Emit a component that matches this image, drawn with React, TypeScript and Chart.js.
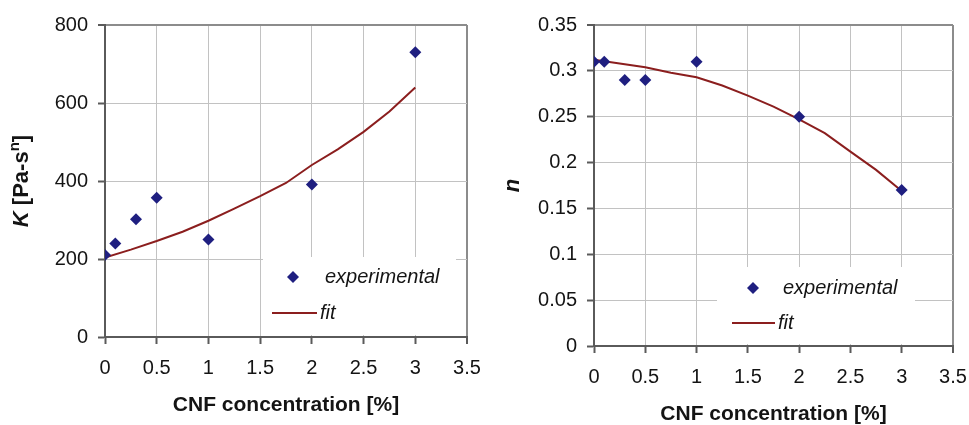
import React, { useEffect, useRef } from "react";
import { Chart, registerables } from "chart.js";

Chart.register(...registerables);

// ---------- data ----------
const expX = [0, 0.1, 0.3, 0.5, 1, 2, 3];
const kExp = [210, 240, 302, 357, 250, 391, 730];
const nExp = [0.31, 0.31, 0.29, 0.29, 0.31, 0.25, 0.17];

const fitX = [0, 0.25, 0.5, 0.75, 1, 1.25, 1.5, 1.75, 2, 2.25, 2.5, 2.75, 3];
const kFit = [204, 224, 246, 270, 298, 329, 361, 395, 441, 481, 526, 578, 640];
const nFit = [0.312, 0.308, 0.304, 0.298, 0.293, 0.284, 0.273, 0.261, 0.247, 0.232, 0.212, 0.192, 0.169];

const xTickValues = [0, 0.5, 1, 1.5, 2, 2.5, 3, 3.5];
const xTickLabels = ["0", "0.5", "1", "1.5", "2", "2.5", "3", "3.5"];
const kTickValues = [0, 200, 400, 600, 800];
const kTickLabels = ["0", "200", "400", "600", "800"];
const nTickValues = [0, 0.05, 0.1, 0.15, 0.2, 0.25, 0.3, 0.35];
const nTickLabels = ["0", "0.05", "0.1", "0.15", "0.2", "0.25", "0.3", "0.35"];

const seriesNames = ["experimental", "fit"];
const xTitle = "CNF concentration [%]";

// ---------- style ----------
const FONT = '"Liberation Sans", Arial, Helvetica, sans-serif';
const POINT_COLOR = "#1f1f80";
const LINE_COLOR = "#8b1e1e";
const GRID = "#c2c2c2";
const FRAME = "#8c8c8c";
const AXIS = "#5a5a5a";
const TEXT = "#141414";

type Panel = {
  left: number;
  width: number;
  yWidth: number;
  xHeight: number;
  padRight: number;
  yVals: number[];
  yLabels: string[];
  yMax: number;
  expY: number[];
  fitY: number[];
  yTitleParts: { text: string; style: string; size: number; rise?: number }[];
  yTitleX: number;
  xTitleOffset: number;
  legend: {
    box: [number, number, number];
    marker: [number, number];
    text1: [number, number];
    line: [number, number, number];
    text2: [number, number];
  };
};

const panels: Panel[] = [
  {
    left: 0,
    width: 484,
    yWidth: 105,
    xHeight: 88,
    padRight: 17,
    yVals: kTickValues,
    yLabels: kTickLabels,
    yMax: 800,
    expY: kExp,
    fitY: kFit,
    yTitleParts: [
      { text: "K", style: "italic bold", size: 22 },
      { text: " [Pa-s", style: "bold", size: 22 },
      { text: "n", style: "bold", size: 15, rise: 7 },
      { text: "]", style: "bold", size: 22 },
    ],
    yTitleX: 22,
    xTitleOffset: 68,
    legend: {
      box: [263, 257, 193],
      marker: [293, 277],
      text1: [325, 277],
      line: [272, 317, 313],
      text2: [320, 313],
    },
  },
  {
    left: 484,
    width: 485,
    yWidth: 110,
    xHeight: 79,
    padRight: 16,
    yVals: nTickValues,
    yLabels: nTickLabels,
    yMax: 0.35,
    expY: nExp,
    fitY: nFit,
    yTitleParts: [{ text: "n", style: "italic bold", size: 22 }],
    yTitleX: 29,
    xTitleOffset: 68,
    legend: {
      box: [233, 267, 198],
      marker: [269, 288],
      text1: [299, 288],
      line: [248, 291, 323],
      text2: [294, 323],
    },
  },
];

function makeDecor(p: Panel) {
  return {
    id: "decor",
    beforeDatasetsDraw(chart: any) {
      const ctx = chart.ctx;
      const a = chart.chartArea;
      const [bx, by, bw] = p.legend.box;
      ctx.save();
      ctx.fillStyle = "#ffffff";
      ctx.fillRect(bx, by, bw, a.bottom - 2 - by);
      ctx.restore();
    },
    afterDraw(chart: any) {
      const ctx = chart.ctx;
      const a = chart.chartArea;
      ctx.save();
      // legend
      const [mx, my] = p.legend.marker;
      const r = 6;
      ctx.fillStyle = POINT_COLOR;
      ctx.beginPath();
      ctx.moveTo(mx - r, my);
      ctx.lineTo(mx, my - r);
      ctx.lineTo(mx + r, my);
      ctx.lineTo(mx, my + r);
      ctx.closePath();
      ctx.fill();
      ctx.font = `italic 20px ${FONT}`;
      ctx.fillStyle = TEXT;
      ctx.textAlign = "left";
      ctx.textBaseline = "middle";
      ctx.fillText(seriesNames[0], p.legend.text1[0], p.legend.text1[1]);
      const [l0, l1, ly] = p.legend.line;
      ctx.strokeStyle = LINE_COLOR;
      ctx.lineWidth = 2;
      ctx.beginPath();
      ctx.moveTo(l0, ly);
      ctx.lineTo(l1, ly);
      ctx.stroke();
      ctx.fillText(seriesNames[1], p.legend.text2[0], p.legend.text2[1]);

      // x title
      ctx.font = `bold 21px ${FONT}`;
      ctx.textAlign = "center";
      ctx.fillText(xTitle, (a.left + a.right) / 2, a.bottom + p.xTitleOffset);

      // y title (rotated, mixed styles)
      const cy = (a.top + a.bottom) / 2;
      ctx.translate(p.yTitleX, cy);
      ctx.rotate(-Math.PI / 2);
      ctx.textAlign = "left";
      let total = 0;
      const widths = p.yTitleParts.map((part) => {
        ctx.font = `${part.style} ${part.size}px ${FONT}`;
        const w = ctx.measureText(part.text).width;
        total += w;
        return w;
      });
      let x = -total / 2;
      p.yTitleParts.forEach((part, i) => {
        ctx.font = `${part.style} ${part.size}px ${FONT}`;
        ctx.fillText(part.text, x, -(part.rise || 0));
        x += widths[i];
      });
      ctx.restore();
    },
  };
}

function ChartPanel({ p }: { p: Panel }) {
  const ref = useRef<HTMLCanvasElement>(null);
  useEffect(() => {
    const canvas = ref.current!;
    const chart = new Chart(canvas, {
      type: "scatter",
      data: {
        datasets: [
          {
            label: seriesNames[0],
            data: expX.map((x, i) => ({ x, y: p.expY[i] })),
            pointStyle: "rectRot",
            pointRadius: 6,
            pointBorderWidth: 0,
            backgroundColor: POINT_COLOR,
            borderColor: POINT_COLOR,
            showLine: false,
            order: 1,
          },
          {
            label: seriesNames[1],
            data: fitX.map((x, i) => ({ x, y: p.fitY[i] })),
            showLine: true,
            pointRadius: 0,
            borderColor: LINE_COLOR,
            borderWidth: 2,
            tension: 0,
            order: 2,
          },
        ],
      },
      options: {
        responsive: false,
        maintainAspectRatio: false,
        animation: false,
        devicePixelRatio: 1,
        layout: { padding: { left: 0, top: 25, right: p.padRight, bottom: 0 } },
        plugins: {
          legend: { display: false },
          tooltip: { enabled: false },
          title: { display: false },
        },
        scales: {
          x: {
            type: "linear",
            min: 0,
            max: 3.5,
            afterBuildTicks: (s: any) => {
              s.ticks = xTickValues.map((v) => ({ value: v }));
            },
            afterFit: (s: any) => {
              s.height = p.xHeight;
              s.paddingLeft = 0;
              s.paddingRight = 0;
            },
            ticks: {
              autoSkip: false,
              maxRotation: 0,
              padding: 12,
              color: TEXT,
              font: { family: FONT, size: 20 },
              callback: (v: any) => xTickLabels[xTickValues.indexOf(Number(v))] ?? "",
            },
            grid: {
              color: (c: any) => (c.tick && c.tick.value === 3.5 ? FRAME : GRID),
              lineWidth: (c: any) => (c.tick && c.tick.value === 3.5 ? 2 : 1),
              tickLength: 7,
              tickColor: AXIS,
              tickWidth: 2,
            },
            border: { color: AXIS, width: 2 },
          },
          y: {
            type: "linear",
            min: 0,
            max: p.yMax,
            afterBuildTicks: (s: any) => {
              s.ticks = p.yVals.map((v) => ({ value: v }));
            },
            afterFit: (s: any) => {
              s.width = p.yWidth;
              s.paddingTop = 0;
              s.paddingBottom = 0;
            },
            ticks: {
              autoSkip: false,
              padding: 10,
              color: TEXT,
              font: { family: FONT, size: 20 },
              callback: (v: any) => p.yLabels[p.yVals.indexOf(Number(v))] ?? "",
            },
            grid: {
              color: (c: any) => (c.tick && c.tick.value === p.yMax ? FRAME : GRID),
              lineWidth: (c: any) => (c.tick && c.tick.value === p.yMax ? 2 : 1),
              tickLength: 7,
              tickColor: AXIS,
              tickWidth: 2,
            },
            border: { color: AXIS, width: 2 },
          },
        },
      } as any,
      plugins: [makeDecor(p)],
    });
    return () => chart.destroy();
  }, []);
  return (
    <canvas
      ref={ref}
      width={p.width}
      height={425}
      style={{ position: "absolute", left: p.left, top: 0, width: p.width, height: 425, display: "block" }}
    />
  );
}

export default function App() {
  return (
    <div style={{ position: "absolute", left: 0, top: 0, width: 969, height: 425, background: "#ffffff", overflow: "hidden" }}>
      {panels.map((p, i) => (
        <ChartPanel key={i} p={p} />
      ))}
    </div>
  );
}
